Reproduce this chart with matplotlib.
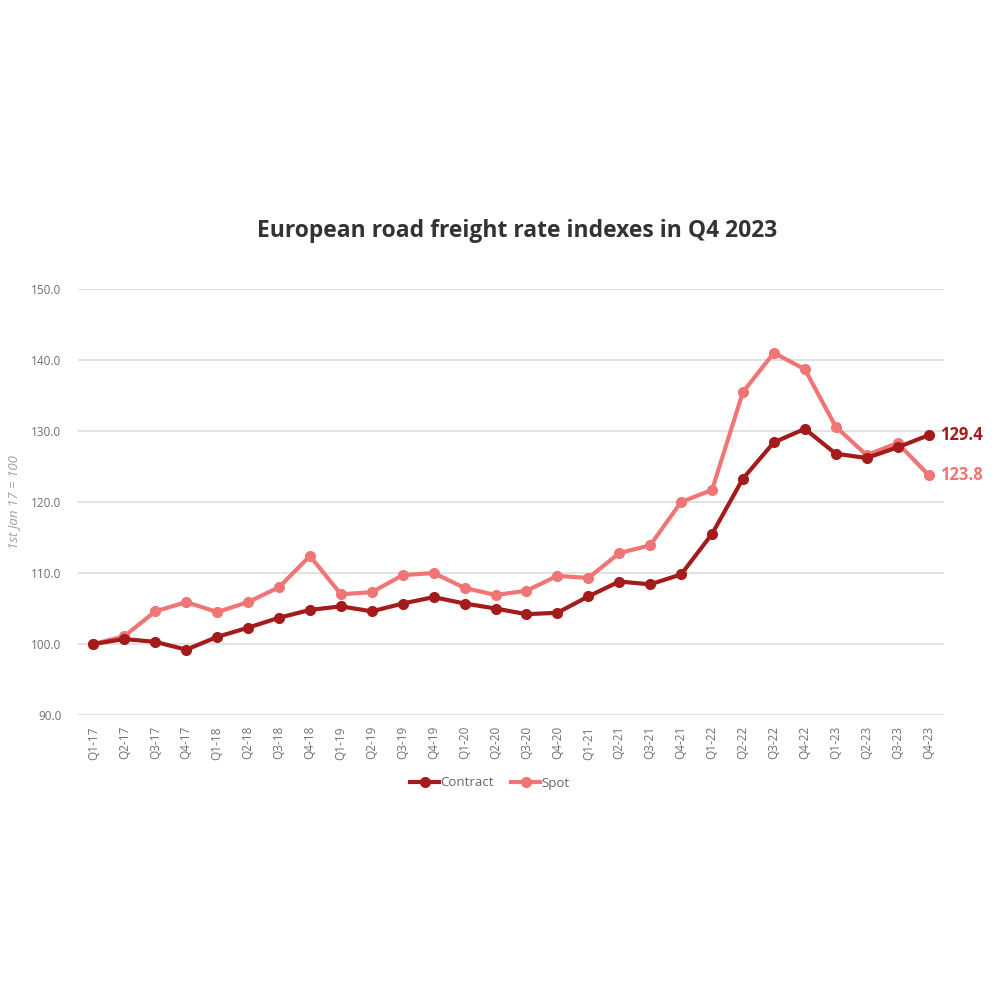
import matplotlib
matplotlib.use("Agg")
import matplotlib.pyplot as plt

plt.rcParams['font.family'] = ['Open Sans', 'DejaVu Sans']

quarters = ['Q1-17', 'Q2-17', 'Q3-17', 'Q4-17', 'Q1-18', 'Q2-18', 'Q3-18', 'Q4-18',
            'Q1-19', 'Q2-19', 'Q3-19', 'Q4-19', 'Q1-20', 'Q2-20', 'Q3-20', 'Q4-20',
            'Q1-21', 'Q2-21', 'Q3-21', 'Q4-21', 'Q1-22', 'Q2-22', 'Q3-22', 'Q4-22',
            'Q1-23', 'Q2-23', 'Q3-23', 'Q4-23']
contract = [100.0, 100.7, 100.3, 99.2, 101.0, 102.3, 103.7, 104.8,
            105.3, 104.6, 105.7, 106.6, 105.7, 105.0, 104.2, 104.4,
            106.7, 108.8, 108.4, 109.8, 115.5, 123.3, 128.4, 130.3,
            126.8, 126.2, 127.7, 129.4]
spot = [100.0, 101.1, 104.6, 105.9, 104.5, 105.9, 108.0, 112.4,
        107.0, 107.3, 109.7, 110.0, 107.9, 106.9, 107.5, 109.6,
        109.3, 112.8, 113.9, 120.0, 121.7, 135.5, 141.0, 138.7,
        130.6, 126.6, 128.3, 123.8]

c_contract = '#A31B1B'
c_spot = '#F07575'

fig = plt.figure(figsize=(10, 10), dpi=100)
ax = fig.add_axes([0.078, 0.285, 0.866, 0.426])

x = list(range(len(quarters)))
ax.plot(x, spot, color=c_spot, lw=3, marker='o', ms=7, label='Spot', zorder=2)
ax.plot(x, contract, color=c_contract, lw=3, marker='o', ms=7, label='Contract', zorder=3)

ax.set_xlim(-0.5, 27.5)
ax.set_ylim(90, 150)
ax.set_yticks([90, 100, 110, 120, 130, 140, 150])
ax.set_yticklabels([f'{v:.1f}' for v in [90, 100, 110, 120, 130, 140, 150]])
ax.set_xticks(x)
ax.set_xticklabels(quarters, rotation=90)
ax.tick_params(axis='both', length=0, labelsize=8.5, labelcolor='#6f6f6f')
ax.tick_params(axis='y', pad=12)
ax.tick_params(axis='x', pad=8)
ax.grid(axis='y', color='#dddddd', lw=1.2)
ax.set_axisbelow(True)
for s in ax.spines.values():
    s.set_visible(False)

ax.set_ylabel('1st Jan 17 = 100', style='italic', color='#a0a0a0', fontsize=9.5, labelpad=8)

ax.annotate(f'{contract[-1]:.1f}', (x[-1], contract[-1]), xytext=(8, 0),
            textcoords='offset points', va='center', ha='left',
            color=c_contract, fontsize=12, fontweight='bold', annotation_clip=False)
ax.annotate(f'{spot[-1]:.1f}', (x[-1], spot[-1]), xytext=(8, 0),
            textcoords='offset points', va='center', ha='left',
            color=c_spot, fontsize=12, fontweight='bold', annotation_clip=False)

fig.text(0.517, 0.769, 'European road freight rate indexes in Q4 2023',
         ha='center', va='center', fontsize=16.5, fontweight='bold', color='#333333')

handles, labels = ax.get_legend_handles_labels()
fig.legend(handles[::-1], labels[::-1], loc='center', bbox_to_anchor=(0.49, 0.217),
           ncol=2, frameon=False, fontsize=9.5, handlelength=2.2, handletextpad=0.1,
           columnspacing=1.3, labelcolor='#666666')

fig.savefig('out.png', dpi=100, facecolor='white')
